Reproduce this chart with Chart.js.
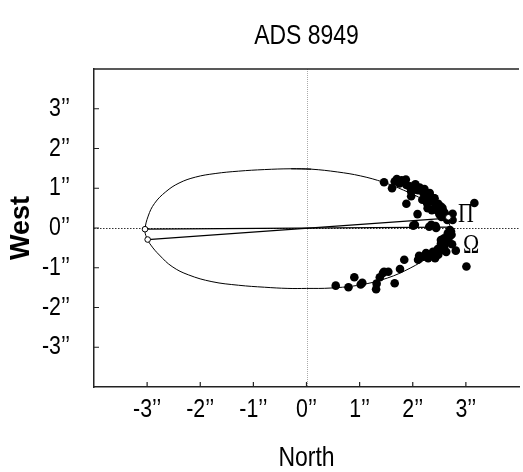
<!DOCTYPE html>
<html>
<head>
<meta charset="utf-8">
<script src="https://cdn.jsdelivr.net/npm/chart.js@4.4.1/dist/chart.umd.min.js"></script>
<style>
  html, body { margin: 0; padding: 0; background: #fff; overflow: hidden; }
  #wrap { width: 524px; height: 472px; }
</style>
</head>
<body>
<div id="wrap"><canvas id="orbitChart"></canvas></div>
<script>
// axis ticks (arcseconds)
const tickValues = [-3, -2, -1, 0, 1, 2, 3];

// apparent orbit (starts on the flat top so the join is smooth)
const orbitX = [-0.29, 0.09, 0.58, 1.02, 1.45, 1.83, 2.20, 2.45, 2.63, 2.71,
  2.68, 2.57, 2.32, 1.95, 1.52, 1.02, 0.46, 0.00, -0.35, -0.79, -1.28, -1.78, -2.22, -2.53, -2.77, -2.93, -3.01,
  -3.04, -2.98, -2.86, -2.65, -2.40, -2.09, -1.72, -1.28, -0.79, -0.29, 0.09];
const orbitY = [1.49, 1.48, 1.41, 1.31, 1.15, 0.95, 0.71, 0.47, 0.22, 0.00,
  -0.18, -0.42, -0.71, -1.01, -1.26, -1.43, -1.51, -1.52, -1.52, -1.49, -1.44, -1.35, -1.18, -0.97, -0.68, -0.43, -0.24,
  -0.05, 0.30, 0.62, 0.91, 1.13, 1.28, 1.37, 1.43, 1.47, 1.49, 1.48];

// line of apsides and line of nodes
const apsidesX = [-2.99, 2.67];
const apsidesY = [-0.29, 0.25];
const nodesX = [-3.04, 2.72];
const nodesY = [-0.03, 0.02];

// open circles at line ends
const endX = [-3.04, -2.99, 2.67];
const endY = [-0.03, -0.29, 0.27];

// measurements
const obsX = [1.46, 1.61, 1.70, 1.79, 1.87, 1.75, 1.95, 1.97, 1.88, 1.97, 2.06, 2.13, 2.20, 2.25, 2.32, 2.34, 2.39, 2.43, 2.48, 2.51,
  2.56, 2.60, 2.63, 2.75, 2.09, 2.01, 2.43, 2.18, 2.27, 3.16, 2.28, 2.36, 2.54, 2.31, 2.10, 2.22, 2.30, 2.40, 2.46, 2.58,
  2.65, 2.50, 1.66, 1.88, 2.04, 2.35, 2.41, 2.53, 2.59, 2.75, 1.96, 2.05,
  2.70, 2.66, 2.59, 2.66, 2.73, 2.53, 2.60, 2.47, 2.54, 2.38, 2.32, 2.25, 2.29, 2.42, 2.48, 2.63, 2.81, 2.74, 3.01, 2.12,
  2.10, 1.84, 1.76, 1.54, 1.44, 1.38, 1.66, 1.32, 1.31, 1.02, 0.90, 0.79, 0.55, 2.53, 2.69, 2.72, 2.44, 1.46, 1.05, 2.20];
const obsY = [1.15, 1.00, 1.23, 1.20, 1.22, 1.12, 1.05, 0.92, 0.61, 0.80, 0.97, 1.02, 0.88, 0.80, 0.88, 0.74, 0.66, 0.55, 0.61, 0.46,
  0.50, 0.38, 0.30, 0.36, 0.35, 0.06, 0.05, 0.71, 0.62, 0.63, 0.50, 0.45, 0.28, 0.03, 0.95, 0.98, 0.70, 0.75, 0.45, 0.40,
  0.20, 0.35, 1.17, 1.08, 0.08, 0.08, 0.75, 0.54, 0.29, 0.20, 1.00, 1.10,
  -0.05, -0.13, -0.26, -0.29, -0.17, -0.40, -0.44, -0.53, -0.56, -0.60, -0.67, -0.63, -0.76, -0.76, -0.67, -0.60, -0.57, -0.41, -0.97, -0.70,
  -0.80, -0.80, -1.03, -1.10, -1.13, -1.24, -1.39, -1.40, -1.54, -1.42, -1.24, -1.49, -1.45, -0.30, -0.22, -0.09, 0.00, -1.10, -1.38, -0.72];

// node / periastron marks
const markText = ['\u03A0', '\u03A9'];
const markX = [3.0, 3.1];
const markY = [0.33, -0.45];

const pts = (xs, ys) => xs.map((x, i) => ({ x: x, y: ys[i] }));
// no narrow face installed: text in this family is squeezed horizontally below
const narrow = "'Liberation Sans Narrow', 'Liberation Sans', Arial, sans-serif";

const framePlugin = {
  id: 'frame',
  beforeInit(chart) {
    const ctx = chart.ctx;
    const fill = ctx.fillText;
    ctx.fillText = function (text, x, y, maxWidth) {
      if (this.font.indexOf('Narrow') < 0) return fill.call(this, text, x, y);
      this.save();
      this.translate(x, y);
      this.scale(0.82, 1);
      fill.call(this, text, 0, 0);
      this.restore();
    };
  },
  beforeDatasetsDraw(chart) {
    const { ctx, chartArea: a, scales: { x, y } } = chart;
    ctx.save();
    // zero lines
    ctx.lineWidth = 1;
    ctx.setLineDash([1.5, 1.5]);
    ctx.strokeStyle = '#333';
    const y0 = Math.round(y.getPixelForValue(0)) + 0.5;
    ctx.beginPath(); ctx.moveTo(a.left, y0); ctx.lineTo(a.right, y0); ctx.stroke();
    ctx.strokeStyle = '#aaa';
    ctx.setLineDash([1, 1]);
    const x0 = Math.round(x.getPixelForValue(0)) + 0.5;
    ctx.beginPath(); ctx.moveTo(x0, a.top); ctx.lineTo(x0, a.bottom); ctx.stroke();
    ctx.restore();
  },
  afterDraw(chart) {
    const { ctx, chartArea: a, scales: { x, y } } = chart;
    ctx.save();
    ctx.strokeStyle = '#222';
    ctx.lineWidth = 1.5;
    ctx.beginPath(); ctx.moveTo(a.left, a.top); ctx.lineTo(a.right, a.top); ctx.stroke();
    // inward ticks
    ctx.lineWidth = 1.2;
    ctx.beginPath();
    x.ticks.forEach(t => {
      const px = x.getPixelForValue(t.value);
      ctx.moveTo(px, a.bottom); ctx.lineTo(px, a.bottom - 5);
    });
    y.ticks.forEach(t => {
      const py = y.getPixelForValue(t.value);
      ctx.moveTo(a.left, py); ctx.lineTo(a.left + 5, py);
    });
    ctx.stroke();
    // Π and Ω
    ctx.fillStyle = '#000';
    ctx.font = "28px 'Liberation Serif', 'DejaVu Serif', serif";
    ctx.textAlign = 'center';
    ctx.textBaseline = 'middle';
    markText.forEach((s, i) => {
      ctx.save();
      ctx.translate(x.getPixelForValue(markX[i]), y.getPixelForValue(markY[i]));
      ctx.scale(0.78, 1);
      ctx.fillText(s, 0, 0);
      ctx.restore();
    });
    ctx.restore();
  }
};

const setTicks = scale => { scale.ticks = tickValues.map(v => ({ value: v })); };
const tickLabel = v => v + '\u2019\u2019';

new Chart(document.getElementById('orbitChart'), {
  type: 'scatter',
  data: {
    datasets: [{
      data: pts(endX, endY),
      pointRadius: 2.8,
      pointBorderWidth: 1,
      pointBackgroundColor: '#fff',
      pointBorderColor: '#000',
      order: 0
    }, {
      data: pts(obsX, obsY),
      pointRadius: 4.3,
      pointBorderWidth: 0,
      pointBackgroundColor: '#000',
      order: 1
    }, {
      data: pts(apsidesX, apsidesY),
      showLine: true,
      borderColor: '#000',
      borderWidth: 1.3,
      pointRadius: 0,
      order: 2
    }, {
      data: pts(nodesX, nodesY),
      showLine: true,
      borderColor: '#000',
      borderWidth: 1.3,
      pointRadius: 0,
      order: 3
    }, {
      data: pts(orbitX, orbitY),
      showLine: true,
      tension: 0.4,
      borderColor: '#000',
      borderWidth: 1,
      pointRadius: 0,
      order: 4
    }]
  },
  options: {
    responsive: true,
    maintainAspectRatio: false,
    animation: false,
    layout: { padding: 0 },
    plugins: {
      legend: { display: false },
      tooltip: { enabled: false },
      title: {
        display: true,
        text: 'ADS 8949',
        fullSize: false,
        color: '#000',
        font: { family: narrow, size: 28, weight: 'normal' },
        padding: { top: 19, bottom: 16.4 }
      }
    },
    scales: {
      x: {
        min: -4, max: 4,
        afterBuildTicks: setTicks,
        afterFit: s => { s.height = 85; },
        grid: { display: false, drawTicks: false },
        border: { display: true, color: '#222', width: 1.5 },
        ticks: { autoSkip: false, maxRotation: 0, padding: 7, color: '#000',
          font: { family: narrow, size: 26 }, callback: tickLabel },
        title: { display: true, text: 'North', color: '#000',
          font: { family: narrow, size: 28, lineHeight: 1 }, padding: { top: 0, bottom: 0 } }
      },
      y: {
        min: -4, max: 4,
        afterBuildTicks: setTicks,
        afterFit: s => { s.width = 94; },
        grid: { display: false, drawTicks: false },
        border: { display: true, color: '#222', width: 1.5 },
        ticks: { autoSkip: false, padding: 24, color: '#000',
          font: { family: narrow, size: 26 }, callback: tickLabel },
        title: { display: true, text: 'West', color: '#000',
          font: { family: "'Liberation Sans', Arial, sans-serif", size: 27, weight: 'bold', lineHeight: 1 },
          padding: { top: 8.5, bottom: 0 } }
      }
    }
  },
  plugins: [framePlugin]
});
</script>
</body>
</html>
